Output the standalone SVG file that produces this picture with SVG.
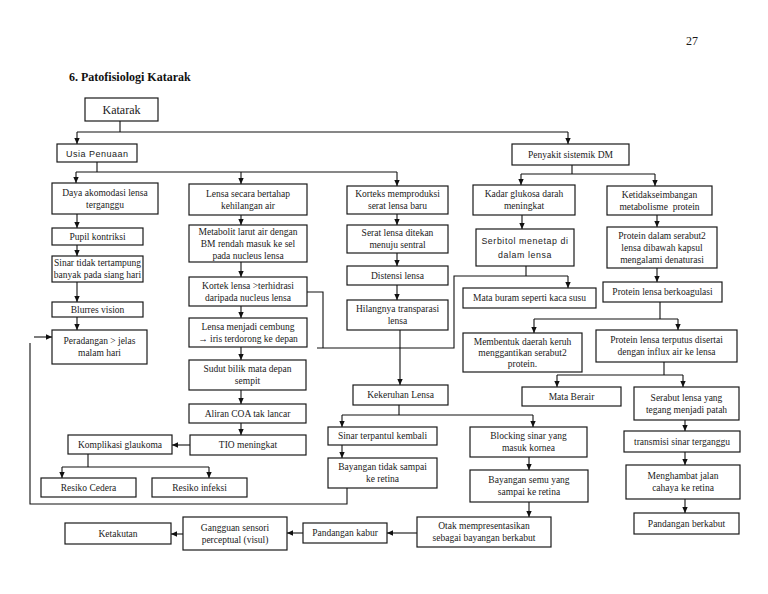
<svg xmlns="http://www.w3.org/2000/svg" width="768" height="594" viewBox="0 0 768 594">
<style>
.b{fill:#fff;stroke:#1a1a1a;stroke-width:1.2}
.t{font-family:"Liberation Serif","Times New Roman",serif;font-size:9.5px;fill:#1a1a1a;text-anchor:middle}
.s{font-family:"Liberation Sans",Arial,sans-serif;font-size:9px;fill:#1a1a1a;letter-spacing:0.5px}
.c{fill:none;stroke:#111;stroke-width:1.1}
.a{marker-end:url(#ah)}
</style>
<defs>
<marker id="ah" markerWidth="6" markerHeight="6" refX="6" refY="3" orient="auto" markerUnits="userSpaceOnUse"><path d="M0,0.3 L6,3 L0,5.7 z" fill="#111"/></marker>
</defs>
<rect width="768" height="594" fill="#fff"/>
<text x="692" y="45" style="font-family:'Liberation Serif',serif;font-size:12px;fill:#1a1a1a;text-anchor:middle">27</text>
<text x="69" y="81" style="font-family:'Liberation Serif',serif;font-size:12px;font-weight:bold;fill:#111">6.  Patofisiologi Katarak</text>

<g id="connectors">
<path class="c" d="M120,121 V132 M77,132 H568"/>
<path class="c a" d="M77,132 V144"/>
<path class="c a" d="M568,132 V144"/>
<path class="c" d="M97,162 V172 M76,172 H397"/>
<path class="c a" d="M76,172 V183"/>
<path class="c a" d="M241,172 V184"/>
<path class="c a" d="M397,172 V186"/>
<path class="c a" d="M77,214 V228"/>
<path class="c a" d="M77,245 V256"/>
<path class="c a" d="M77,282 V302"/>
<path class="c a" d="M77,317 V330"/>
<path class="c a" d="M34,337 H52"/>
<path class="c" d="M30,343 V504 H347 V488"/>
<path class="c a" d="M241,215 V225"/>
<path class="c a" d="M241,262 V277"/>
<path class="c a" d="M241,306 V318"/>
<path class="c a" d="M241,347 V360"/>
<path class="c a" d="M241,390 V404"/>
<path class="c a" d="M241,423 V435"/>
<path class="c a" d="M190,445 H172"/>
<path class="c" d="M88,454 V467 M62,467 H209"/>
<path class="c a" d="M62,467 V478"/>
<path class="c a" d="M209,467 V478"/>
<path class="c a" d="M397,214 V225"/>
<path class="c a" d="M397,253 V266"/>
<path class="c a" d="M397,285 V300"/>
<path class="c a" d="M400,330 V385"/>
<path class="c" d="M307,292 H323 V348 M317,348 H454 V276 H568 M526,266 V276"/>
<path class="c a" d="M568,276 V288"/>
<path class="c a" d="M522,215 V229"/>
<path class="c" d="M572,165 V174 M521,174 H655"/>
<path class="c a" d="M521,174 V185"/>
<path class="c a" d="M655,174 V186"/>
<path class="c a" d="M657,215 V227"/>
<path class="c a" d="M657,268 V282"/>
<path class="c" d="M660,302 V319 M534,319 H678"/>
<path class="c a" d="M534,319 V333"/>
<path class="c a" d="M678,319 V330"/>
<path class="c" d="M664,362 V375 M557,375 H683"/>
<path class="c a" d="M557,375 V387"/>
<path class="c a" d="M683,375 V387"/>
<path class="c a" d="M685,420 V431"/>
<path class="c a" d="M685,452 V465"/>
<path class="c a" d="M685,499 V513"/>
<path class="c" d="M399,405 V415 M342,415 H533"/>
<path class="c a" d="M342,415 V427"/>
<path class="c a" d="M533,415 V427"/>
<path class="c a" d="M342,445 V458"/>
<path class="c a" d="M529,457 V470"/>
<path class="c a" d="M529,502 V517"/>
<path class="c a" d="M417,533 H387"/>
<path class="c a" d="M303,533 H287"/>
<path class="c a" d="M183,534 H171"/>
</g>

<g id="katarak"><rect class="b" x="85" y="98" width="73" height="23"/><text class="t" x="121.5" y="114" style="font-size:12px">Katarak</text></g>
<g id="usia"><rect class="b" x="57" y="144" width="80" height="18"/><text class="s" x="66" y="156.5">Usia Penuaan</text></g>
<g id="penyakit"><rect class="b" x="512" y="144" width="117" height="21"/><text class="t" x="570.5" y="157.8">Penyakit sistemik DM</text></g>

<g id="daya"><rect class="b" x="52" y="183" width="106" height="31"/><text class="t" x="105" y="195.8">Daya akomodasi lensa</text><text class="t" x="105" y="207.8">terganggu</text></g>
<g id="pupil"><rect class="b" x="52" y="228" width="91" height="17"/><text class="t" x="97.5" y="239.8">Pupil kontriksi</text></g>
<g id="sinartidak"><rect class="b" x="52" y="256" width="91" height="26"/><text class="t" x="97.5" y="266.3">Sinar tidak tertampung</text><text class="t" x="97.5" y="278.3">banyak pada siang hari</text></g>
<g id="blurres"><rect class="b" x="52" y="302" width="91" height="15"/><text class="t" x="97.5" y="312.8">Blurres vision</text></g>
<g id="peradangan"><rect class="b" x="52" y="330" width="95" height="34"/><text class="t" x="99.5" y="344.3">Peradangan &gt; jelas</text><text class="t" x="99.5" y="356.3">malam hari</text></g>

<g id="lensasecara"><rect class="b" x="189" y="184" width="118" height="31"/><text class="t" x="248" y="196.8">Lensa secara bertahap</text><text class="t" x="248" y="208.8">kehilangan air</text></g>
<g id="metabolit"><rect class="b" x="189" y="225" width="118" height="37"/><text class="t" x="248" y="234.8">Metabolit larut air dengan</text><text class="t" x="248" y="246.8">BM rendah masuk ke sel</text><text class="t" x="248" y="258.8">pada nucleus lensa</text></g>
<g id="kortek"><rect class="b" x="189" y="277" width="118" height="29"/><text class="t" x="248" y="288.8">Kortek lensa &gt;terhidrasi</text><text class="t" x="248" y="300.8">daripada nucleus lensa</text></g>
<g id="lensamenjadi"><rect class="b" x="189" y="318" width="118" height="29"/><text class="t" x="248" y="329.8">Lensa menjadi cembung</text><text class="t" x="248" y="341.8">→ iris terdorong ke depan</text></g>
<g id="sudut"><rect class="b" x="189" y="360" width="117" height="30"/><text class="t" x="247.5" y="372.3">Sudut bilik mata depan</text><text class="t" x="247.5" y="384.3">sempit</text></g>
<g id="aliran"><rect class="b" x="189" y="404" width="117" height="19"/><text class="t" x="247.5" y="416.8">Aliran COA tak lancar</text></g>
<g id="tio"><rect class="b" x="190" y="435" width="116" height="20"/><text class="t" x="248" y="448.3">TIO meningkat</text></g>
<g id="komplikasi"><rect class="b" x="68" y="435" width="104" height="19"/><text class="t" x="120" y="447.8">Komplikasi glaukoma</text></g>
<g id="cedera"><rect class="b" x="41" y="478" width="95" height="19"/><text class="t" x="88.5" y="490.8">Resiko Cedera</text></g>
<g id="infeksi"><rect class="b" x="152" y="478" width="95" height="19"/><text class="t" x="199.5" y="490.8">Resiko infeksi</text></g>

<g id="korteks"><rect class="b" x="347" y="186" width="101" height="28"/><text class="t" x="397.5" y="197.3">Korteks memproduksi</text><text class="t" x="397.5" y="209.3">serat lensa baru</text></g>
<g id="serat"><rect class="b" x="347" y="225" width="101" height="28"/><text class="t" x="397.5" y="236.3">Serat lensa ditekan</text><text class="t" x="397.5" y="248.3">menuju sentral</text></g>
<g id="distensi"><rect class="b" x="347" y="266" width="101" height="19"/><text class="t" x="397.5" y="278.8">Distensi lensa</text></g>
<g id="hilangnya"><rect class="b" x="347" y="300" width="101" height="30"/><text class="t" x="397.5" y="312.3">Hilangnya transparasi</text><text class="t" x="397.5" y="324.3">lensa</text></g>
<g id="kekeruhan"><rect class="b" x="353" y="385" width="95" height="20"/><text class="t" x="400.5" y="398.3">Kekeruhan Lensa</text></g>
<g id="sinarterpantul"><rect class="b" x="328" y="427" width="109" height="18"/><text class="t" x="382.5" y="439.3">Sinar terpantul kembali</text></g>
<g id="bayangantidak"><rect class="b" x="328" y="458" width="109" height="30"/><text class="t" x="382.5" y="470.3">Bayangan tidak sampai</text><text class="t" x="382.5" y="482.3">ke retina</text></g>
<g id="blocking"><rect class="b" x="470" y="427" width="117" height="30"/><text class="t" x="528.5" y="439.3">Blocking sinar yang</text><text class="t" x="528.5" y="451.3">masuk kornea</text></g>
<g id="bayangansemu"><rect class="b" x="470" y="470" width="118" height="32"/><text class="t" x="529" y="483.3">Bayangan semu yang</text><text class="t" x="529" y="495.3">sampai ke retina</text></g>
<g id="otak"><rect class="b" x="417" y="517" width="134" height="30"/><text class="t" x="484" y="529.3">Otak mempresentasikan</text><text class="t" x="484" y="541.3">sebagai bayangan berkabut</text></g>
<g id="pandangankabur"><rect class="b" x="303" y="523" width="84" height="20"/><text class="t" x="345" y="536.3">Pandangan kabur</text></g>
<g id="gangguan"><rect class="b" x="183" y="517" width="104" height="33"/><text class="t" x="235" y="530.8">Gangguan sensori</text><text class="t" x="235" y="542.8">perceptual (visul)</text></g>
<g id="ketakutan"><rect class="b" x="65" y="523" width="106" height="21"/><text class="t" x="118" y="536.8">Ketakutan</text></g>

<g id="kadar"><rect class="b" x="473" y="185" width="102" height="30"/><text class="t" x="524" y="197.3">Kadar glukosa darah</text><text class="t" x="524" y="209.3">meningkat</text></g>
<g id="serbitol"><rect class="b" x="476" y="229" width="98" height="37"/><text class="s" x="525" y="243.8" text-anchor="middle" style="font-size:8.8px;letter-spacing:0.6px">Serbitol menetap di</text><text class="s" x="525" y="257.8" text-anchor="middle" style="font-size:8.8px;letter-spacing:0.6px">dalam lensa</text></g>
<g id="matauram"><rect class="b" x="463" y="288" width="133" height="20"/><text class="t" x="529.5" y="301.3">Mata buram seperti kaca susu</text></g>
<g id="membentuk"><rect class="b" x="463" y="333" width="119" height="39"/><text class="t" x="522.5" y="344.8">Membentuk daerah keruh</text><text class="t" x="522.5" y="355.8">menggantikan serabut2</text><text class="t" x="522.5" y="366.8">protein.</text></g>
<g id="mataberair"><rect class="b" x="522" y="387" width="99" height="19"/><text class="t" x="571.5" y="399.8">Mata Berair</text></g>

<g id="ketidak"><rect class="b" x="607" y="186" width="105" height="29"/><text class="t" x="659.5" y="197.8">Ketidakseimbangan</text><text class="t" x="659.5" y="209.8" style="white-space:pre">metabolisme  protein</text></g>
<g id="proteindalam"><rect class="b" x="607" y="227" width="110" height="41"/><text class="t" x="662" y="238.8">Protein dalam serabut2</text><text class="t" x="662" y="250.8">lensa dibawah kapsul</text><text class="t" x="662" y="262.8">mengalami denaturasi</text></g>
<g id="koagulasi"><rect class="b" x="603" y="282" width="119" height="20"/><text class="t" x="662.5" y="295.3">Protein lensa berkoagulasi</text></g>
<g id="terputus"><rect class="b" x="596" y="330" width="141" height="32"/><text class="t" x="666.5" y="343.3">Protein lensa terputus disertai</text><text class="t" x="666.5" y="355.3">dengan influx air ke lensa</text></g>
<g id="serabut"><rect class="b" x="634" y="387" width="105" height="33"/><text class="t" x="686.5" y="400.8">Serabut lensa yang</text><text class="t" x="686.5" y="412.8">tegang menjadi patah</text></g>
<g id="transmisi"><rect class="b" x="624" y="431" width="116" height="21"/><text class="t" x="682" y="444.8">transmisi sinar terganggu</text></g>
<g id="menghambat"><rect class="b" x="626" y="465" width="114" height="34"/><text class="t" x="683" y="479.3">Menghambat jalan</text><text class="t" x="683" y="491.3">cahaya ke retina</text></g>
<g id="berkabut"><rect class="b" x="634" y="513" width="105" height="21"/><text class="t" x="686.5" y="526.8">Pandangan berkabut</text></g>
</svg>
